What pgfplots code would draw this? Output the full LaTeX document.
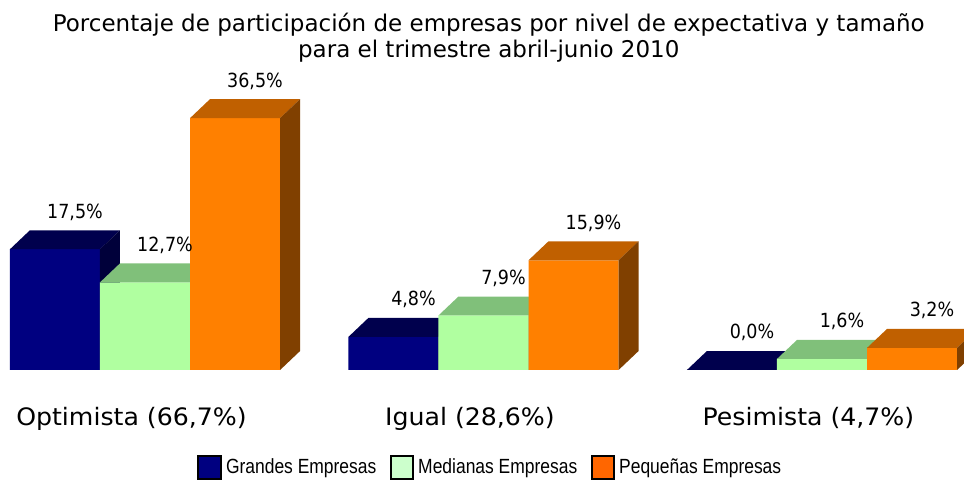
\documentclass[border=0pt]{standalone}
\usepackage{fontspec}
\setmainfont{DejaVu Sans}
\newfontfamily\valfont{DejaVu Sans}[FakeStretch=0.9]
\newfontfamily\catfont{DejaVu Sans}[FakeStretch=1.05]
\newfontfamily\legfont{Liberation Sans}[FakeStretch=0.85]
\usepackage{pgfplots}
\pgfplotsset{compat=1.18}
\definecolor{bfront}{HTML}{000080}
\definecolor{btop}{HTML}{00004D}
\definecolor{bside}{HTML}{00003A}
\definecolor{mfront}{HTML}{B0FFA0}
\definecolor{mtop}{HTML}{80C07A}
\definecolor{mside}{HTML}{5A9A55}
\definecolor{pfront}{HTML}{FF8000}
\definecolor{ptop}{HTML}{C06000}
\definecolor{pside}{HTML}{804000}
\definecolor{lgreen}{HTML}{CCFFCC}
\definecolor{lorange}{HTML}{FF6600}
\pgfplotsset{
  vals/.style={
    nodes near coords={\pgfmathprintnumber[fixed,zerofill,precision=1,use comma]{\pgfplotspointmeta}\%},
    every node near coord/.append style={font=\fontsize{14.6}{16}\valfont, anchor=base, xshift=#1, yshift=23.25pt, text=black}},
  face/.style={fill=#1, draw=none, forget plot},
}
\begin{document}
\begin{tikzpicture}
\begin{axis}[
  width=723pt, height=363pt, scale only axis,
  xmin=-0.4284, xmax=2.4195, ymin=-16.52, ymax=53.62,
  axis line style={draw=none}, xtick=\empty, ytick=\empty,
  /pgf/number format/assume math mode=true,
  legend style={at={(rel axis cs:0.509,0.034)}, anchor=center, draw=none, fill=none,
    legend columns=3, font=\fontsize{15.4}{16}\legfont, inner sep=0pt,
    /tikz/every even column/.append style={column sep=8pt},
    /tikz/every odd column/.append style={column sep=1pt}},
]
% --- Grandes Empresas ---
\addplot[ybar, bar width=0.266, bar shift=-0.266, fill=bfront, draw=none, forget plot, vals=-52.5pt]
  coordinates {(0,17.5) (1,4.8) (2,0.0)};
\addplot[face=btop] coordinates {(-0.399,17.5) (-0.340,20.25) (-0.074,20.25) (-0.133,17.5)};
\addplot[face=btop] coordinates {(0.601,4.8) (0.660,7.55) (0.926,7.55) (0.867,4.8)};
\addplot[face=btop] coordinates {(1.601,0) (1.660,2.75) (1.926,2.75) (1.867,0)};
\addplot[face=bside] coordinates {(-0.133,0) (-0.074,2.75) (-0.074,20.25) (-0.133,17.5)};
\addplot[face=bside] coordinates {(0.867,0) (0.926,2.75) (0.926,7.55) (0.867,4.8)};
% --- Medianas Empresas ---
\addplot[ybar, bar width=0.266, bar shift=0, fill=mfront, draw=none, forget plot, vals=15pt]
  coordinates {(0,12.7) (1,7.9) (2,1.6)};
\addplot[face=mtop] coordinates {(-0.133,12.7) (-0.074,15.45) (0.192,15.45) (0.133,12.7)};
\addplot[face=mtop] coordinates {(0.867,7.9) (0.926,10.65) (1.192,10.65) (1.133,7.9)};
\addplot[face=mtop] coordinates {(1.867,1.6) (1.926,4.35) (2.192,4.35) (2.133,1.6)};
\addplot[face=mside] coordinates {(0.133,0) (0.192,2.75) (0.192,15.45) (0.133,12.7)};
\addplot[face=mside] coordinates {(1.133,0) (1.192,2.75) (1.192,10.65) (1.133,7.9)};
\addplot[face=mside] coordinates {(2.133,0) (2.192,2.75) (2.192,4.35) (2.133,1.6)};
% --- Pequenas Empresas ---
\addplot[ybar, bar width=0.266, bar shift=0.266, fill=pfront, draw=none, forget plot, vals=82.5pt]
  coordinates {(0,36.5) (1,15.9) (2,3.2)};
\addplot[face=ptop] coordinates {(0.133,36.5) (0.192,39.25) (0.458,39.25) (0.399,36.5)};
\addplot[face=ptop] coordinates {(1.133,15.9) (1.192,18.65) (1.458,18.65) (1.399,15.9)};
\addplot[face=ptop] coordinates {(2.133,3.2) (2.192,5.95) (2.458,5.95) (2.399,3.2)};
\addplot[face=pside] coordinates {(0.399,0) (0.458,2.75) (0.458,39.25) (0.399,36.5)};
\addplot[face=pside] coordinates {(1.399,0) (1.458,2.75) (1.458,18.65) (1.399,15.9)};
\addplot[face=pside] coordinates {(2.399,0) (2.458,2.75) (2.458,5.95) (2.399,3.2)};
% legend
\addlegendimage{legend image code/.code={\draw[fill=bfront,draw=black,line width=1.4pt] (0pt,-8.5pt) rectangle (17pt,8.5pt);}}
\addlegendentry{Grandes Empresas}
\addlegendimage{legend image code/.code={\draw[fill=lgreen,draw=black,line width=1.4pt] (0pt,-8.5pt) rectangle (17pt,8.5pt);}}
\addlegendentry{Medianas Empresas}
\addlegendimage{legend image code/.code={\draw[fill=lorange,draw=black,line width=1.4pt] (0pt,-8.5pt) rectangle (17pt,8.5pt);}}
\addlegendentry{Pequeñas Empresas}
% category labels
\node[font=\fontsize{18}{20}\catfont, anchor=base] at (axis cs:-0.04,-8.0) {Optimista (66,7\%)};
\node[font=\fontsize{18}{20}\catfont, anchor=base] at (axis cs:0.96,-8.0) {Igual (28,6\%)};
\node[font=\fontsize{18}{20}\catfont, anchor=base] at (axis cs:1.96,-8.0) {Pesimista (4,7\%)};
% title
\node[font=\fontsize{17.25}{20}\selectfont, anchor=base] at (rel axis cs:0.507,0.934) {Porcentaje de participación de empresas por nivel de expectativa y tamaño};
\node[font=\fontsize{17.25}{20}\selectfont, anchor=base] at (rel axis cs:0.507,0.882) {para el trimestre abril-junio 2010};
\end{axis}
\end{tikzpicture}
\end{document}
